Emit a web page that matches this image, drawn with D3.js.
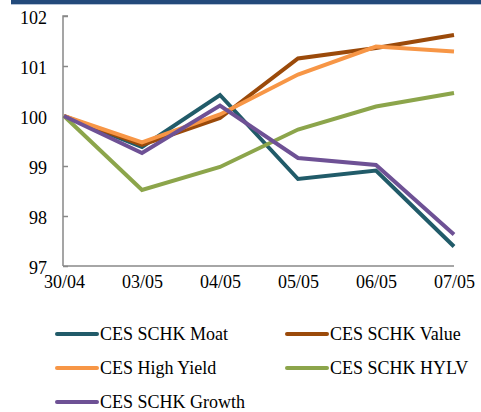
<!DOCTYPE html>
<html><head><meta charset="utf-8">
<script src="https://cdn.jsdelivr.net/npm/d3@7/dist/d3.min.js"></script>
<style>body{margin:0;background:#fff;}svg{display:block;}</style>
</head><body><svg id="c" width="481" height="412"></svg>
<script>
const categories = ["30/04","03/05","04/05","05/05","06/05","07/05"];
const seriesNames = ["CES SCHK Moat","CES SCHK Value","CES High Yield","CES SCHK HYLV","CES SCHK Growth"];
const moat   = [100, 99.38, 100.42, 98.74, 98.91, 97.39];
const value  = [100, 99.42, 99.96, 101.15, 101.36, 101.62];
const highYield = [100, 99.47, 100.03, 100.83, 101.39, 101.29];
const hylv   = [100, 98.52, 98.98, 99.73, 100.19, 100.46];
const growth = [100, 99.26, 100.21, 99.16, 99.02, 97.63];
const yTicks = [97, 98, 99, 100, 101, 102];
const colors = ["#215b69", "#9b4a0a", "#f79646", "#8ca54b", "#6e5195"];
const allSeries = [moat, value, highYield, hylv, growth];
const FONT = '"Liberation Serif", "Times New Roman", serif';

const svg = d3.select("#c");

svg.append("rect").attr("x",11).attr("y",0).attr("width",470).attr("height",4).attr("fill","#234a7b");
svg.append("rect").attr("x",11).attr("y",4).attr("width",470).attr("height",1).attr("fill","#b4c2d6");

const x = d3.scalePoint().domain(categories).range([64, 454]);
const y = d3.scaleLinear().domain([97, 102]).range([266, 16]);

// y axis
const ya = svg.append("g").attr("transform","translate(63,0)")
  .call(d3.axisRight(y).tickValues(yTicks).tickSize(5).tickFormat(d3.format("d")));
ya.attr("font-family", null);
ya.select(".domain").attr("stroke","#888").attr("stroke-width",1.5).attr("d","M5,16H0V266");
ya.selectAll(".tick line").attr("stroke","#888").attr("stroke-width",1.5);
ya.selectAll(".tick text").attr("x",-16).attr("text-anchor","end").attr("dy","0.4em")
  .style("font-family",FONT).style("font-size","18px").attr("fill","#000");

// x axis
const xa = svg.append("g").attr("transform","translate(0,266)")
  .call(d3.axisBottom(x).tickSize(0));
xa.attr("font-family", null);
xa.select(".domain").attr("stroke","#888").attr("stroke-width",1.5).attr("d","M63,0H454");
xa.selectAll(".tick text").attr("y",16).attr("dy","0.35em")
  .style("font-family",FONT).style("font-size","18px").attr("fill","#000");

const line = d3.line().x((d,i)=>x(categories[i])).y(d=>y(d));
allSeries.forEach((s,k)=>{
  svg.append("path").datum(s).attr("d",line).attr("fill","none")
    .attr("stroke",colors[k]).attr("stroke-width",4).attr("stroke-linejoin","miter");
});

// legend
const legPos = [[57,334],[287,334],[57,368],[287,368],[57,402]];
seriesNames.forEach((n,k)=>{
  const [lx,ly] = legPos[k];
  svg.append("line").attr("x1",lx).attr("x2",lx+40).attr("y1",ly).attr("y2",ly)
    .attr("stroke",colors[k]).attr("stroke-width",4).attr("stroke-linecap","round");
  svg.append("text").attr("x",lx+43).attr("y",ly).attr("dy","0.35em")
    .style("font-family",FONT).style("font-size","18px").attr("fill","#000").text(n);
});
</script></body></html>
